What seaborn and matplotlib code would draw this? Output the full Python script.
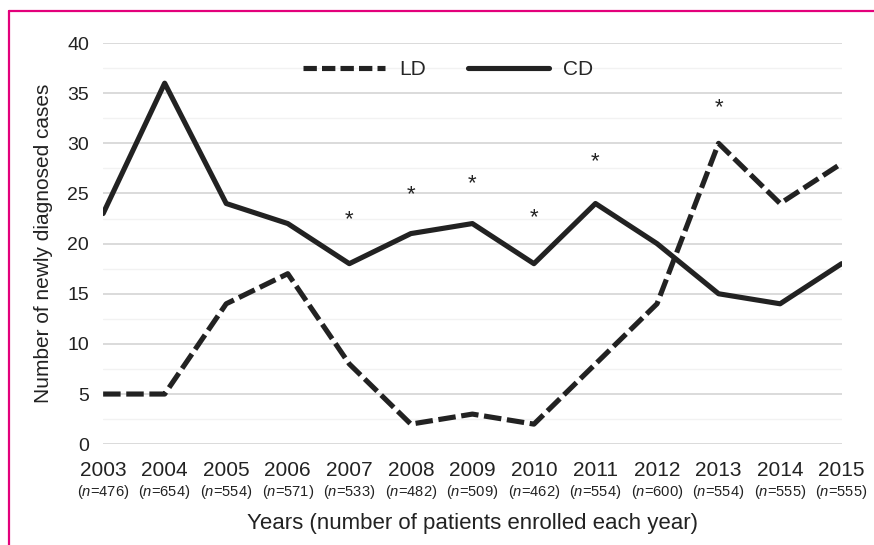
import matplotlib
matplotlib.use("Agg")
import matplotlib.pyplot as plt
import matplotlib.transforms as mtransforms
from matplotlib.lines import Line2D
from matplotlib.ticker import MultipleLocator
import seaborn as sns
import pandas as pd

# data
years = list(range(2003, 2016))
n_enrolled = [476, 654, 554, 571, 533, 482, 509, 462, 554, 600, 554, 555, 555]
ld_cases = [5, 5, 14, 17, 8, 2, 3, 2, 8, 14, 30, 24, 28]
cd_cases = [23, 36, 24, 22, 18, 21, 22, 18, 24, 20, 15, 14, 18]
star_years = [2007, 2008, 2009, 2010, 2011, 2013]
star_y = [22.4, 24.9, 26.0, 22.6, 28.2, 33.6]

df = pd.concat([
    pd.DataFrame({"year": years, "cases": ld_cases, "type": "LD"}),
    pd.DataFrame({"year": years, "cases": cd_cases, "type": "CD"}),
])

sns.set_theme(style="white")
plt.rcParams["font.family"] = ["Liberation Sans", "DejaVu Sans"]
plt.rcParams["mathtext.fontset"] = "custom"
plt.rcParams["mathtext.it"] = "Liberation Sans:italic"
plt.rcParams["mathtext.rm"] = "Liberation Sans"

fig = plt.figure(figsize=(8.74, 5.45), dpi=100)
ax = fig.add_axes([0.118, 0.185, 0.845, 0.736])

line_col = "#222222"
lw = 3.7
sns.lineplot(data=df, x="year", y="cases", style="type", style_order=["LD", "CD"],
             dashes={"LD": (3.4, 1.1), "CD": ""}, color=line_col, linewidth=lw,
             ax=ax, legend=False)

ax.set_xlim(2003, 2015)
ax.set_ylim(0, 40)
ax.yaxis.set_major_locator(MultipleLocator(5))
ax.yaxis.set_minor_locator(MultipleLocator(2.5))
ax.grid(which="major", axis="y", color="#d8d8d8", linewidth=1.3)
ax.grid(which="minor", axis="y", color="#f2f2f2", linewidth=1.0)
ax.set_axisbelow(True)
for s in ax.spines.values():
    s.set_visible(False)
ax.tick_params(axis="y", which="both", length=0, pad=10, labelsize=14, labelcolor="#222222")
ax.tick_params(axis="x", length=0, pad=12, labelsize=15, labelcolor="#222222")
ax.set_xticks(years)
ax.set_xticklabels([str(y) for y in years])

# n= labels under the years
trans = mtransforms.blended_transform_factory(ax.transData, ax.transAxes)
for y, n in zip(years, n_enrolled):
    ax.text(y, -0.119, r"($\it{n}$=" + str(n) + ")", transform=trans,
            ha="center", va="center", fontsize=10.6, color="#222222")

for x, y in zip(star_years, star_y):
    ax.text(x, y, "*", ha="center", va="center", fontsize=16, color="#222222")

ax.set_xlabel("Years (number of patients enrolled each year)", fontsize=16,
              color="#222222", labelpad=24)
ax.set_ylabel("Number of newly diagnosed cases", fontsize=15, color="#222222", labelpad=10)

handles = [Line2D([], [], color=line_col, lw=lw, dashes=(2.6, 1.0)),
           Line2D([], [], color=line_col, lw=lw)]
ax.legend(handles, ["LD", "CD"], loc="center", bbox_to_anchor=(0.513, 0.872),
          bbox_transform=fig.transFigure, ncol=2, frameon=False, fontsize=15,
          handlelength=3.9, columnspacing=2.0, handletextpad=0.7)

# magenta frame edge (left and top)
frame_col = "#e3007b"
fig.add_artist(Line2D([9 / 874, 9 / 874], [0, 1 - 11 / 545], color=frame_col, lw=1.6,
                      transform=fig.transFigure))
fig.add_artist(Line2D([9 / 874, 1], [1 - 11 / 545, 1 - 11 / 545], color=frame_col, lw=1.6,
                      transform=fig.transFigure))

fig.savefig("out.png", dpi=100)
